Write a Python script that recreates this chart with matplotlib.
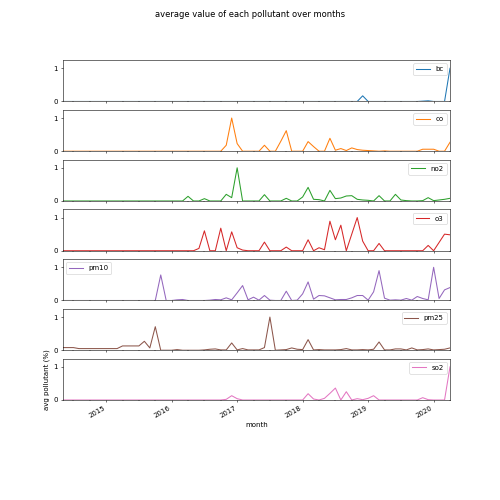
import pandas as pd
import matplotlib
matplotlib.use("Agg")
import matplotlib.pyplot as plt

# bulan dari 2014-05 sampai 2020-04 (72 bulan)
months = pd.period_range("2014-05", "2020-04", freq="M", name="month")

bc = [0] * 55 + [0.17] + [0] * 10 + [0.01, 0.02, 0, 0, 0, 1.0]

co = ([0] * 30 + [0.18, 1.0, 0.23, 0, 0, 0, 0, 0.18, 0, 0, 0.3, 0.62, 0, 0, 0,
      0.29, 0.14, 0, 0, 0.39, 0.03, 0.08, 0.02, 0.1, 0.05, 0.03, 0.02, 0.01, 0, 0.01]
      + [0] * 6 + [0.06, 0.06, 0.06, 0, 0, 0.27])

no2 = ([0] * 23 + [0.14, 0, 0, 0.07, 0, 0, 0, 0.2, 0.1, 1.0, 0, 0, 0, 0, 0.19, 0, 0, 0,
       0.08, 0, 0, 0.12, 0.41, 0.05, 0.04, 0, 0.32, 0.07, 0.09, 0.15, 0.16, 0.05, 0.03,
       0.02, 0, 0.16, 0, 0, 0.2, 0.03, 0.01, 0, 0, 0.01, 0.1, 0.01, 0.03, 0.05, 0.08])

o3 = ([0] * 25 + [0.07, 0.6, 0, 0, 0.68, 0, 0.57, 0.09, 0.02, 0, 0, 0, 0.26, 0, 0, 0,
      0.11, 0, 0, 0, 0.33, 0, 0.09, 0.03, 0.89, 0.33, 0.77, 0, 0.5, 1.0, 0.29, 0, 0, 0.22]
      + [0] * 8 + [0.16, 0, 0.25, 0.5, 0.48])

pm10 = ([0] * 18 + [0.77, 0, 0, 0.02, 0.03, 0, 0, 0, 0, 0.01, 0.03, 0.02, 0.08, 0.02,
        0.23, 0.45, 0.02, 0.1, 0.01, 0.15, 0.01, 0, 0, 0.28, 0, 0.01, 0.2, 0.56, 0.04,
        0.15, 0.14, 0.08, 0.02, 0.03, 0.03, 0.08, 0.15, 0.15, 0.01, 0.26, 0.9, 0.07,
        0.01, 0.02, 0.01, 0.06, 0.01, 0.12, 0.06, 0.02, 1.0, 0.06, 0.32, 0.39])

pm25 = ([0.08] * 3 + [0.05] * 8 + [0.13] * 4 + [0.27, 0.07, 0.71, 0, 0, 0, 0.02, 0, 0,
        0, 0, 0.01, 0.03, 0.04, 0.01, 0.01, 0.22, 0.01, 0.05, 0.01, 0.01, 0.01, 0.08,
        1.0, 0, 0.01, 0.02, 0.07, 0.03, 0.02, 0.32, 0.01, 0.02, 0.01, 0.01, 0.01, 0.02,
        0.05, 0.01, 0.01, 0.02, 0.01, 0.03, 0.25, 0.01, 0.01, 0.04, 0.04, 0.01, 0.07,
        0.01, 0.02, 0.04, 0.01, 0.02, 0.03, 0.07])

so2 = ([0] * 30 + [0.02, 0.13, 0.04] + [0] * 12 + [0.19, 0.03, 0, 0.05, 0.2, 0.36, 0,
       0.25, 0, 0.04, 0.01, 0.05, 0.13] + [0] * 8 + [0.07, 0.01, 0, 0, 0, 1.0])

df = pd.DataFrame({"bc": bc, "co": co, "no2": no2, "o3": o3,
                   "pm10": pm10, "pm25": pm25, "so2": so2}, index=months)

axes = df.plot(subplots=True, figsize=(10, 10), ylim=(0, 1.25), yticks=[0, 1],
               title="average value of each pollutant over months")

for ax, col in zip(axes, df.columns):
    ax.legend(loc="upper left" if col == "pm10" else "upper right")

axes[-1].set_ylabel("avg pollutant (%)")
plt.gcf().autofmt_xdate()

plt.savefig("out.png", dpi=50)
